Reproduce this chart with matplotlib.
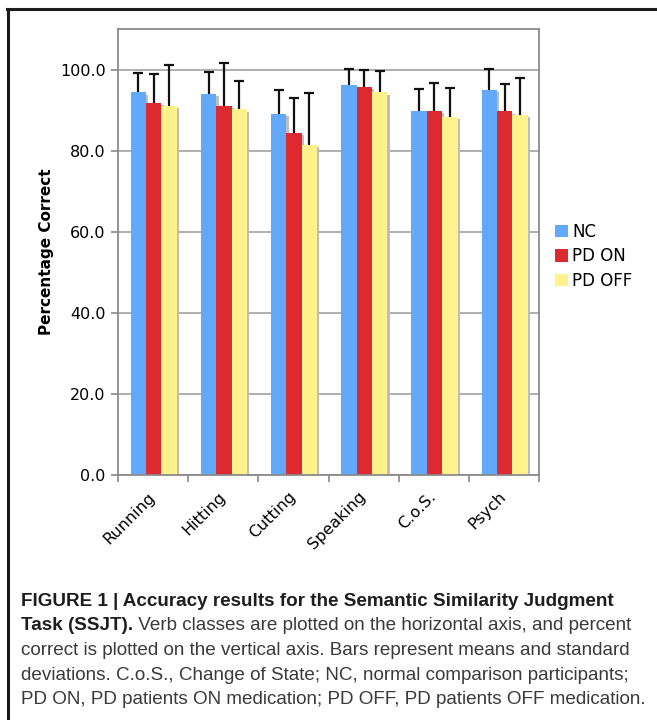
import matplotlib
matplotlib.use("Agg")
import matplotlib.pyplot as plt
import matplotlib.transforms as mtransforms
import numpy as np
from matplotlib.patches import Patch
from matplotlib.lines import Line2D

categories = ["Running", "Hitting", "Cutting", "Speaking", "C.o.S.", "Psych"]
groups = ["NC", "PD ON", "PD OFF"]
nc_mean = [94.4, 94.0, 89.0, 96.3, 89.8, 95.0]
on_mean = [91.8, 91.0, 84.4, 95.7, 89.8, 89.7]
off_mean = [91.0, 90.2, 81.5, 94.4, 88.4, 88.9]
nc_sd = [4.8, 5.5, 5.9, 3.9, 5.3, 5.1]
on_sd = [7.2, 10.5, 8.5, 4.3, 6.8, 6.8]
off_sd = [10.2, 7.0, 12.8, 5.2, 7.1, 9.0]
yticks = [0, 20, 40, 60, 80, 100]

colors = ["#62a8fb", "#dd2a30", "#fff28c"]

W, H = 657, 720
fig = plt.figure(figsize=(W / 100, H / 100), dpi=100)
fig.patch.set_facecolor("white")

def fx(x):
    return x / W

def fy(y):
    return 1 - y / H

ax = fig.add_axes([fx(118), fy(475), fx(539) - fx(118), fy(29) - fy(475)])
ax.set_xlim(0, 6)
ax.set_ylim(0, 110)

means = [nc_mean, on_mean, off_mean]
sds = [nc_sd, on_sd, off_sd]
bw = 0.219
centers = np.arange(len(categories)) + 0.51
offsets = [-bw, 0, bw]

# shadows
for k in range(3):
    x = centers + offsets[k] + 0.033
    ax.bar(x, np.array(means[k]) - 0.57, width=bw, color="#bdbdbd", zorder=1.5, linewidth=0)
for k in range(3):
    x = centers + offsets[k]
    ax.bar(x, means[k], width=bw, color=colors[k], zorder=2, linewidth=0)
    eb = ax.errorbar(x, means[k], yerr=[np.zeros(len(categories)), sds[k]], fmt="none",
                     ecolor="#111111", elinewidth=1.6, capsize=3.5, capthick=1.6, zorder=3)
    caplines = eb[1]
    if len(caplines) > 0:
        caplines[0].set_visible(False)

ax.set_yticks(yticks)
ax.set_yticklabels([f"{v:.1f}" for v in yticks])
ax.yaxis.grid(True, color="#9a9a9a", linewidth=1.1, zorder=0)
ax.set_axisbelow(True)
ax.set_xticks(np.arange(0, 7))
ax.set_xticklabels([])
ax.set_xticks(np.arange(len(categories)) + 0.5, minor=True)
ax.set_xticklabels(categories, minor=True, rotation=45, ha="right", va="center",
                   rotation_mode="anchor", fontsize=11.5)
shift = mtransforms.ScaledTranslation(-0.09, 0, fig.dpi_scale_trans)
for lbl in ax.get_xticklabels(minor=True):
    lbl.set_transform(lbl.get_transform() + shift)
ax.tick_params(axis="x", which="minor", length=0, pad=14)
ax.tick_params(axis="x", which="major", length=5, color="#888888", width=1.2, direction="out")
ax.tick_params(axis="y", length=5, color="#888888", width=1.2, labelsize=11.5, pad=4)
for s in ax.spines.values():
    s.set_color("#8a8a8a")
    s.set_linewidth(1.3)
ax.set_ylabel("Percentage Correct", fontsize=11, fontweight="bold", labelpad=4)

handles = [Patch(facecolor=c, edgecolor="none") for c in colors]
fig.legend(handles, groups, loc="upper left", bbox_to_anchor=(fx(555), fy(223)),
           frameon=False, fontsize=12, handlelength=0.75, handleheight=0.75,
           handletextpad=0.3, labelspacing=0.38, borderaxespad=0, borderpad=0)

# frame
fig.add_artist(Line2D([fx(7), fx(657)], [fy(9), fy(9)], color="#1a1a1a", linewidth=2.2))
fig.add_artist(Line2D([fx(8), fx(8)], [fy(9), fy(720)], color="#1a1a1a", linewidth=2.2))

# caption
cap_lines = [
    [("FIGURE 1 | Accuracy results for the Semantic Similarity Judgment", "bold")],
    [("Task (SSJT).", "bold"), (" Verb classes are plotted on the horizontal axis, and percent", "normal")],
    [("correct is plotted on the vertical axis. Bars represent means and standard", "normal")],
    [("deviations. C.o.S., Change of State; NC, normal comparison participants;", "normal")],
    [("PD ON, PD patients ON medication; PD OFF, PD patients OFF medication.", "normal")],
]
cap_family = ["Liberation Sans Narrow", "Liberation Sans"]
fig.canvas.draw()
renderer = fig.canvas.get_renderer()
probe = fig.text(0, 0, cap_lines[2][0][0], fontsize=12, family=cap_family)
wpx = probe.get_window_extent(renderer).width
probe.remove()
cap_size = 12 * 612 / wpx
baselines = [606, 630.5, 655, 679.5, 704]
for line, yb in zip(cap_lines, baselines):
    xpos = 21
    for txt, wt in line:
        t = fig.text(fx(xpos), fy(yb), txt, fontsize=cap_size, fontweight=wt,
                     family=cap_family, color="#3a3a3a" if wt == "normal" else "#1e1e1e",
                     va="baseline", ha="left")
        xpos += t.get_window_extent(renderer).width

fig.savefig("out.png", dpi=100, facecolor="white")
